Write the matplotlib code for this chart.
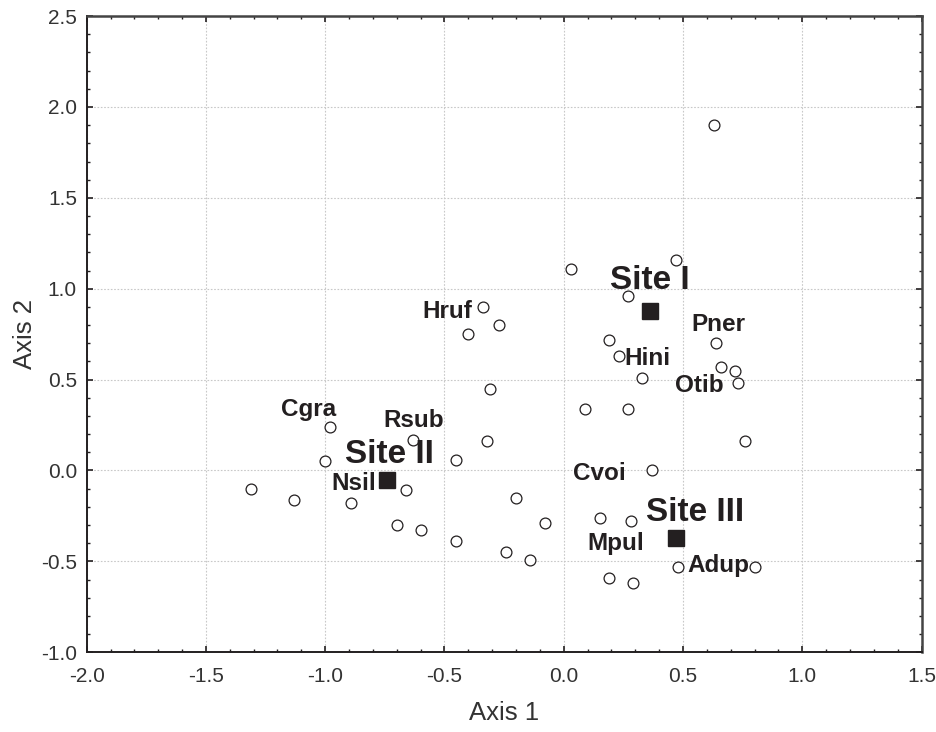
import matplotlib.pyplot as plt
from matplotlib.ticker import MultipleLocator

plt.rcParams["font.family"] = ["Liberation Sans", "DejaVu Sans"]

# species scores (open circles)
species_x = [0.63, 0.03, 0.47, 0.27, 0.19, 0.23, 0.64, 0.33, 0.66, 0.72, 0.73,
             0.09, 0.27, -0.34, -0.27, -0.40, -0.31, -0.98, -0.63, -0.32, -1.00,
             -0.45, -1.31, -1.13, -0.89, -0.66, -0.20, -0.70, -0.60, -0.08, -0.45,
             -0.24, -0.14, 0.76, 0.37, 0.15, 0.28, 0.48, 0.80, 0.19, 0.29]
species_y = [1.90, 1.11, 1.16, 0.96, 0.72, 0.63, 0.70, 0.51, 0.57, 0.55, 0.48,
             0.34, 0.34, 0.90, 0.80, 0.75, 0.45, 0.24, 0.17, 0.16, 0.05,
             0.06, -0.10, -0.16, -0.18, -0.11, -0.15, -0.30, -0.33, -0.29, -0.39,
             -0.45, -0.49, 0.16, 0.00, -0.26, -0.28, -0.53, -0.53, -0.59, -0.62]

# site centroids (filled squares)
sites = ["Site I", "Site II", "Site III"]
site_x = [0.36, -0.74, 0.47]
site_y = [0.88, -0.05, -0.37]
site_label_x = [0.36, -0.73, 0.55]
site_label_y = [1.00, 0.04, -0.28]

# species labels
names = ["Hruf", "Pner", "Hini", "Otib", "Cgra", "Rsub", "Nsil", "Cvoi", "Mpul", "Adup"]
name_x = [-0.49, 0.65, 0.35, 0.57, -1.07, -0.63, -0.88, 0.15, 0.22, 0.65]
name_y = [0.84, 0.77, 0.58, 0.43, 0.30, 0.24, -0.11, -0.05, -0.44, -0.56]

dark = "#231f20"

fig = plt.figure(figsize=(9.37, 7.32), dpi=100)
ax = fig.add_axes([0.0925, 0.109, 0.891, 0.869])

ax.plot(species_x, species_y, "o", ms=7.8, mfc="white", mec=dark, mew=0.9, zorder=3)
ax.plot(site_x, site_y, "s", ms=11, color=dark, zorder=3)

for s, x, y in zip(sites, site_label_x, site_label_y):
    ax.text(x, y, s, fontsize=24, fontweight="bold", color=dark,
            ha="center", va="baseline", zorder=4)
for s, x, y in zip(names, name_x, name_y):
    ax.text(x, y, s, fontsize=17.5, fontweight="bold", color=dark,
            ha="center", va="baseline", zorder=4)

ax.set_xlim(-2.0, 1.5)
ax.set_ylim(-1.0, 2.5)
ax.xaxis.set_major_locator(MultipleLocator(0.5))
ax.yaxis.set_major_locator(MultipleLocator(0.5))
ax.xaxis.set_minor_locator(MultipleLocator(0.1))
ax.yaxis.set_minor_locator(MultipleLocator(0.1))
ax.xaxis.set_major_formatter(plt.FormatStrFormatter("%.1f"))
ax.yaxis.set_major_formatter(plt.FormatStrFormatter("%.1f"))

ax.tick_params(which="both", direction="in", top=True, right=True, colors=dark,
               labelcolor="#333333", labelsize=15)
ax.tick_params(which="major", length=4, width=1.2)
ax.tick_params(which="minor", length=2, width=1.0)
ax.tick_params(axis="x", which="major", pad=10.5)
ax.tick_params(axis="y", which="major", pad=7)

ax.grid(True, which="major", linestyle=(0, (1.5, 1.5)), color="#c8c8c8", lw=0.8)
ax.set_axisbelow(True)

for side in ["left", "bottom"]:
    ax.spines[side].set_linewidth(1.4)
    ax.spines[side].set_color(dark)
for side in ["right", "top"]:
    ax.spines[side].set_linewidth(1.8)
    ax.spines[side].set_color("#444444")

ax.set_xlabel("Axis 1", fontsize=18.5, color="#333333", labelpad=11)
ax.set_ylabel("Axis 2", fontsize=18.5, color="#333333", labelpad=3)

fig.savefig("out.png", dpi=100)
